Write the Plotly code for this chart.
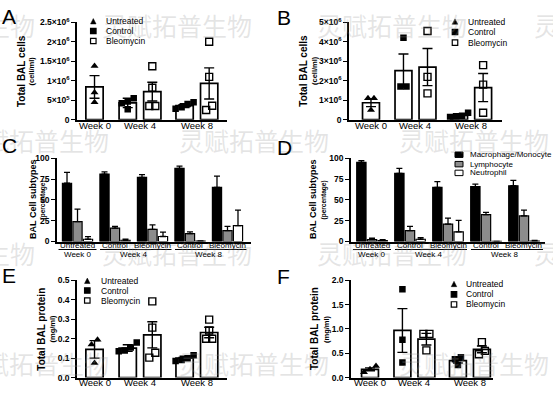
import numpy as np
import plotly.graph_objects as go

W, H = 553, 393
FONT = "Arial, Liberation Sans, Helvetica, sans-serif"
CJK = "Noto Sans CJK SC"

# ---------------- data ----------------
weeks = ["Week 0", "Week 4", "Week 8"]
treatments = ["Untreated", "Control", "Bleomycin"]
bar_treatment = ["Untreated", "Control", "Bleomycin", "Control", "Bleomycin"]
bar_week = ["Week 0", "Week 4", "Week 4", "Week 8", "Week 8"]

# A: total BAL cells (cell/ml)
a_mean = [0.84e6, 0.43e6, 0.72e6, 0.36e6, 0.93e6]
a_sem = [0.29e6, 0.12e6, 0.24e6, 0.05e6, 0.40e6]
a_points = [[1.38e6, 0.70e6, 0.45e6],
            [0.55e6, 0.42e6, 0.27e6, 0.47e6],
            [1.37e6, 0.82e6, 0.35e6, 0.35e6],
            [0.45e6, 0.32e6, 0.28e6, 0.40e6],
            [2.0e6, 1.1e6, 0.36e6, 0.25e6]]
a_ticks = [0, 5e5, 1e6, 1.5e6, 2e6, 2.5e6]
a_ticktext = ["0", "5×10<sup>5</sup>", "1×10<sup>6</sup>", "1.5×10<sup>6</sup>",
              "2×10<sup>6</sup>", "2.5×10<sup>6</sup>"]

# B: total BAL cells (cell/ml)
b_mean = [0.87e6, 2.52e6, 2.70e6, 0.22e6, 1.65e6]
b_sem = [0.20e6, 0.85e6, 0.95e6, 0.06e6, 0.72e6]
b_points = [[1.1e6, 1.1e6, 0.5e6],
            [4.2e6, 1.7e6, 1.7e6],
            [4.55e6, 2.2e6, 1.35e6],
            [0.36e6, 0.20e6, 0.14e6, 0.18e6],
            [2.8e6, 1.8e6, 0.36e6]]
b_ticks = [0, 1e6, 2e6, 3e6, 4e6, 5e6]
b_ticktext = ["0", "1×10<sup>6</sup>", "2×10<sup>6</sup>", "3×10<sup>6</sup>",
              "4×10<sup>6</sup>", "5×10<sup>6</sup>"]

# C / D: BAL cell subtypes (percentage)
subtype_names = ["Macrophage/Monocyte", "Lymphocyte", "Neutrophil"]
subtype_groups = ["Untreated", "Control", "Bleomycin", "Control", "Bleomycin"]
subtype_group_week = ["Week 0", "Week 4", "Week 4", "Week 8", "Week 8"]
c_mac = [70, 81, 77, 88, 65]
c_mac_err = [13, 2.6, 3.5, 2.7, 13.6]
c_lym = [24, 16, 14.5, 9.5, 13]
c_lym_err = [15, 2.3, 5.5, 2.2, 5.3]
c_neu = [2.7, 1.5, 6, 0.5, 19]
c_neu_err = [3.1, 1.2, 5.3, 0.3, 18.7]
d_mac = [95, 82, 65, 66, 67]
d_mac_err = [2.3, 6, 7, 2.9, 6.5]
d_lym = [2.3, 13.2, 21, 32.3, 30.7]
d_lym_err = [1.6, 5.1, 7, 2.7, 7]
d_neu = [1, 2.7, 11.7, 0.2, 0.5]
d_neu_err = [1.3, 2, 13.6, 0, 0.7]
pct_ticks = [0, 25, 50, 75, 100]

# E: total BAL protein (mg/ml)
e_mean = [0.145, 0.152, 0.22, 0.10, 0.232]
e_sem = [0.045, 0.017, 0.067, 0.010, 0.027]
e_points = [[0.195, 0.17, 0.075],
            [0.18, 0.155, 0.14, 0.135],
            [0.392, 0.257, 0.128, 0.103],
            [0.115, 0.10, 0.09, 0.085],
            [0.298, 0.242, 0.20, 0.20]]
e_ticks = [0, 0.1, 0.2, 0.3, 0.4, 0.5]

# F: total BAL protein (mg/ml)
f_mean = [0.17, 0.97, 0.79, 0.35, 0.58]
f_sem = [0.03, 0.45, 0.12, 0.05, 0.07]
f_points = [[0.24, 0.17, 0.11],
            [1.82, 0.78, 0.31],
            [0.90, 0.90, 0.56],
            [0.42, 0.38, 0.26],
            [0.73, 0.55, 0.48]]
f_ticks = [0, 0.5, 1.0, 1.5, 2.0]

watermark = "灵赋拓普生物"

# ---------------- helpers ----------------
fig = go.Figure()
annotations = []
shapes = []
axes = {}


def px2p(x, y):
    return x / W, 1 - y / H


def ids(k):
    return ("x" if k == 1 else f"x{k}"), ("y" if k == 1 else f"y{k}")


def add_axes(k, x0, x1, y0, y1, xrange, yrange, yticks, yticktext,
             xticks=None, xticktext=None):
    xa, ya = ids(k)
    xn = "xaxis" if k == 1 else f"xaxis{k}"
    yn = "yaxis" if k == 1 else f"yaxis{k}"
    axes[xn] = dict(domain=[x0 / W, x1 / W], range=xrange, anchor=ya,
                    showline=True, linecolor="black", linewidth=1.5,
                    showgrid=False, zeroline=False, ticks="",
                    showticklabels=False, fixedrange=True)
    axes[yn] = dict(domain=[1 - y1 / H, 1 - y0 / H], range=yrange, anchor=xa,
                    showline=True, linecolor="black", linewidth=1.5,
                    showgrid=False, zeroline=False, ticks="outside",
                    ticklen=4, tickwidth=1.4, tickcolor="black",
                    tickvals=yticks,
                    ticktext=[f"<b>{t}</b>" for t in yticktext],
                    tickfont=dict(family=FONT, size=8.5, color="black"),
                    fixedrange=True)
    if xticks is not None:
        for xv, xt in zip(xticks, xticktext):
            annotations.append(dict(text=xt, x=xv, y=1 - (y1 + 5.5) / H,
                                    xref=xa, yref="paper", showarrow=False,
                                    xanchor="center", yanchor="middle",
                                    font=dict(family=FONT, size=9.5,
                                              color="black")))


def ytitle(xpx, xsub, ymid, title, sub, size=10, subsize=7.5):
    annotations.append(dict(text=f"<b>{title}</b>", x=xpx / W, y=1 - ymid / H,
                            xref="paper", yref="paper", textangle=-90,
                            showarrow=False, xanchor="center", yanchor="middle",
                            font=dict(family=FONT, size=size, color="black")))
    annotations.append(dict(text=f"<b>{sub}</b>", x=xsub / W, y=1 - ymid / H,
                            xref="paper", yref="paper", textangle=-90,
                            showarrow=False, xanchor="center", yanchor="middle",
                            font=dict(family=FONT, size=subsize, color="black")))


def swarm(vals, px_per_y, px_per_x, s=6.0):
    order = np.argsort(vals)
    offs = [0.0] * len(vals)
    clusters, cur = [], [order[0]]
    for i in order[1:]:
        if abs(vals[i] - vals[cur[-1]]) * px_per_y < s:
            cur.append(i)
        else:
            clusters.append(cur)
            cur = [i]
    clusters.append(cur)
    for c in clusters:
        m = len(c)
        for j, i in enumerate(c):
            offs[i] = (j - (m - 1) / 2) * s / px_per_x
    return offs


marker_style = {
    "Untreated": dict(symbol="triangle-up", size=7, color="black",
                      line=dict(width=0)),
    "Control": dict(symbol="square", size=6.5, color="black",
                    line=dict(width=0)),
    "Bleomycin": dict(symbol="square-open", size=7, color="black",
                      line=dict(width=1.4, color="black")),
}


def scatter_bar_panel(k, means, sems, points, geom):
    xa, ya = ids(k)
    x0, x1, y0, y1, xr, yr = geom
    centers = [0.0, 1.0, 2.25]
    px_per_x = (x1 - x0) / (xr[1] - xr[0])
    px_per_y = (y1 - y0) / (yr[1] - yr[0])
    xs = []
    for i, w in enumerate(bar_week):
        same = [j for j, ww in enumerate(bar_week) if ww == w]
        n, pos = len(same), same.index(i)
        xs.append(centers[weeks.index(w)] + (pos - (n - 1) / 2) * 0.54)
    fig.add_trace(go.Bar(x=xs, y=means, width=0.38, xaxis=xa, yaxis=ya,
                         marker=dict(color="white",
                                     line=dict(color="black", width=1.7)),
                         error_y=dict(type="data", array=sems, visible=True,
                                      color="black", thickness=1.4, width=5),
                         showlegend=False, hoverinfo="skip"))
    for tname in treatments:
        px_, py_ = [], []
        for i, t in enumerate(bar_treatment):
            if t != tname:
                continue
            offs = swarm(points[i], px_per_y, px_per_x)
            px_ += [xs[i] + o for o in offs]
            py_ += points[i]
        fig.add_trace(go.Scatter(x=px_, y=py_, mode="markers", xaxis=xa,
                                 yaxis=ya, marker=marker_style[tname],
                                 showlegend=False, hoverinfo="skip"))


def subtype_panel(k, series, errs, geom, label_y):
    xa, ya = ids(k)
    x0, x1, y0, y1, xr, yr = geom
    px_per_x = (x1 - x0) / (xr[1] - xr[0])
    colors = ["black", "#8c8c8c", "white"]
    xs_base = list(range(len(subtype_groups)))
    for j, (vals, er) in enumerate(zip(series, errs)):
        fig.add_trace(go.Bar(x=[x + (j - 1) * 0.28 for x in xs_base], y=vals,
                             width=0.245, xaxis=xa, yaxis=ya,
                             marker=dict(color=colors[j],
                                         line=dict(color="black", width=1.2)),
                             error_y=dict(type="data", symmetric=False,
                                          array=er, arrayminus=[0] * len(er),
                                          color="black", thickness=1.3, width=3),
                             showlegend=False, hoverinfo="skip"))
    for i, g in enumerate(subtype_groups):
        annotations.append(dict(text=g, x=i, y=1 - label_y / H, xref=xa,
                                yref="paper", showarrow=False,
                                xanchor="center", yanchor="middle",
                                font=dict(family=FONT, size=8, color="black")))
    for w in weeks:
        idx = [i for i, ww in enumerate(subtype_group_week) if ww == w]
        mid = (idx[0] + idx[-1]) / 2
        annotations.append(dict(text=w, x=mid, y=1 - (label_y + 10) / H,
                                xref=xa, yref="paper", showarrow=False,
                                xanchor="center", yanchor="middle",
                                font=dict(family=FONT, size=8, color="black")))
        hw0 = (len(subtype_groups[idx[0]]) * 4.0 + 2) / px_per_x
        hw1 = (len(subtype_groups[idx[-1]]) * 4.0 + 2) / px_per_x
        yl = 1 - (label_y + 4.5) / H
        shapes.append(dict(type="line", xref=xa, yref="paper",
                           x0=idx[0] - hw0 / 2, x1=idx[-1] + hw1 / 2,
                           y0=yl, y1=yl, line=dict(color="black", width=1)))


def marker_legend(mx, text_x, rows, labels, s=5.5):
    kinds = ["triangle", "square", "open"]
    for kind, ry, lab in zip(kinds, rows, labels):
        h = s / 2
        if kind == "triangle":
            p1 = px2p(mx - h, ry + h)
            p2 = px2p(mx + h, ry + h)
            p3 = px2p(mx, ry - h)
            shapes.append(dict(type="path", xref="paper", yref="paper",
                               path=f"M{p1[0]},{p1[1]} L{p2[0]},{p2[1]} L{p3[0]},{p3[1]} Z",
                               fillcolor="black", line=dict(color="black", width=0.5)))
        else:
            a = px2p(mx - h, ry + h)
            b = px2p(mx + h, ry - h)
            shapes.append(dict(type="rect", xref="paper", yref="paper",
                               x0=a[0], y0=a[1], x1=b[0], y1=b[1],
                               fillcolor="black" if kind == "square" else "white",
                               line=dict(color="black", width=1.2)))
        annotations.append(dict(text=lab, x=text_x / W, y=1 - ry / H,
                                xref="paper", yref="paper", showarrow=False,
                                xanchor="left", yanchor="middle",
                                font=dict(family=FONT, size=8.5, color="black")))


# ---------------- watermark (drawn first) ----------------
wm_rows = [(20, [-117, 100, 315, 532]), (138, [-43, 177, 397]),
           (254, [-117, 100, 315, 532]), (367, [-43, 177, 397])]
for yy, xs in wm_rows:
    for xx in xs:
        annotations.append(dict(text=watermark, x=xx / W, y=1 - yy / H,
                                xref="paper", yref="paper", showarrow=False,
                                xanchor="left", yanchor="middle",
                                font=dict(family=CJK, size=25,
                                          color="rgba(150,150,150,0.25)")))

# ---------------- panels ----------------
gA = (77, 227, 16.7, 117, [-0.385, 2.912], [0, 2.5e6])
gB = (349, 502, 16.7, 117, [-0.494, 2.944], [0, 5e6])
gC = (57, 251, 156.7, 242.3, [-0.547, 4.627], [0, 100])
gD = (351, 545, 156.7, 242.3, [-0.553, 4.553], [0, 100])
gE = (77, 227, 282.3, 382.3, [-0.385, 2.912], [0, 0.5])
gF = (351, 493, 282.3, 382.3, [-0.428, 2.77], [0, 2.0])

week_ticks = [0.0, 1.0, 2.25]

add_axes(1, *gA, a_ticks, a_ticktext, week_ticks, weeks)
add_axes(2, *gB, b_ticks, b_ticktext, week_ticks, weeks)
add_axes(3, *gC, pct_ticks, [str(t) for t in pct_ticks])
add_axes(4, *gD, pct_ticks, [str(t) for t in pct_ticks])
add_axes(5, *gE, e_ticks, [f"{t:.1f}" for t in e_ticks], week_ticks, weeks)
add_axes(6, *gF, f_ticks, [f"{t:.1f}" for t in f_ticks], week_ticks, weeks)

scatter_bar_panel(1, a_mean, a_sem, a_points, gA)
scatter_bar_panel(2, b_mean, b_sem, b_points, gB)
subtype_panel(3, [c_mac, c_lym, c_neu], [c_mac_err, c_lym_err, c_neu_err], gC, 246)
subtype_panel(4, [d_mac, d_lym, d_neu], [d_mac_err, d_lym_err, d_neu_err], gD, 246)
scatter_bar_panel(5, e_mean, e_sem, e_points, gE)
scatter_bar_panel(6, f_mean, f_sem, f_points, gF)

ytitle(21, 31.5, 66.9, "Total BAL cells", "(cell/ml)")
ytitle(302.7, 314, 66.9, "Total BAL cells", "(cell/ml)")
ytitle(33, 42.5, 199.5, "BAL Cell subtypes", "(percentage)", size=9, subsize=6.5)
ytitle(313, 323.5, 199.5, "BAL Cell subtypes", "(percentage)", size=9, subsize=6.5)
ytitle(41.7, 52.5, 332.3, "Total BAL protein", "(mg/ml)")
ytitle(315, 327, 332.3, "Total BAL protein", "(mg/ml)")

marker_legend(93.3, 104.3, [15.7, 25.7, 36], treatments)
marker_legend(455, 465.7, [16, 26.7, 37.7], treatments)
marker_legend(87.3, 99.3, [282.7, 292.7, 303], treatments)
marker_legend(454, 464, [286, 296.7, 307], treatments)

sub_colors = ["black", "#8c8c8c", "white"]
for c, ry, lab in zip(sub_colors, [153, 162.7, 171.7], subtype_names):
    a = px2p(455, ry + 2.8)
    b = px2p(463, ry - 2.8)
    shapes.append(dict(type="rect", xref="paper", yref="paper",
                       x0=a[0], y0=a[1], x1=b[0], y1=b[1], fillcolor=c,
                       line=dict(color="black", width=1)))
    annotations.append(dict(text=lab, x=468 / W, y=1 - ry / H, xref="paper",
                            yref="paper", showarrow=False, xanchor="left",
                            yanchor="middle",
                            font=dict(family=FONT, size=8, color="black")))

for letter, lx, ly in [("A", 0, 11), ("B", 275, 12), ("C", 0, 144),
                       ("D", 275, 146), ("E", 0, 277), ("F", 275, 278)]:
    annotations.append(dict(text=letter, x=lx / W, y=1 - ly / H, xref="paper",
                            yref="paper", showarrow=False, xanchor="left",
                            yanchor="middle",
                            font=dict(family=FONT, size=21, color="black")))

fig.update_layout(width=W, height=H, margin=dict(l=0, r=0, t=0, b=0),
                  paper_bgcolor="white", plot_bgcolor="rgba(0,0,0,0)",
                  showlegend=False, barmode="overlay",
                  annotations=annotations, shapes=shapes, **axes)

fig.write_html("out.html", config={"displayModeBar": False},
               post_script="document.body.style.margin='0';"
                           "document.body.style.overflow='hidden';")
